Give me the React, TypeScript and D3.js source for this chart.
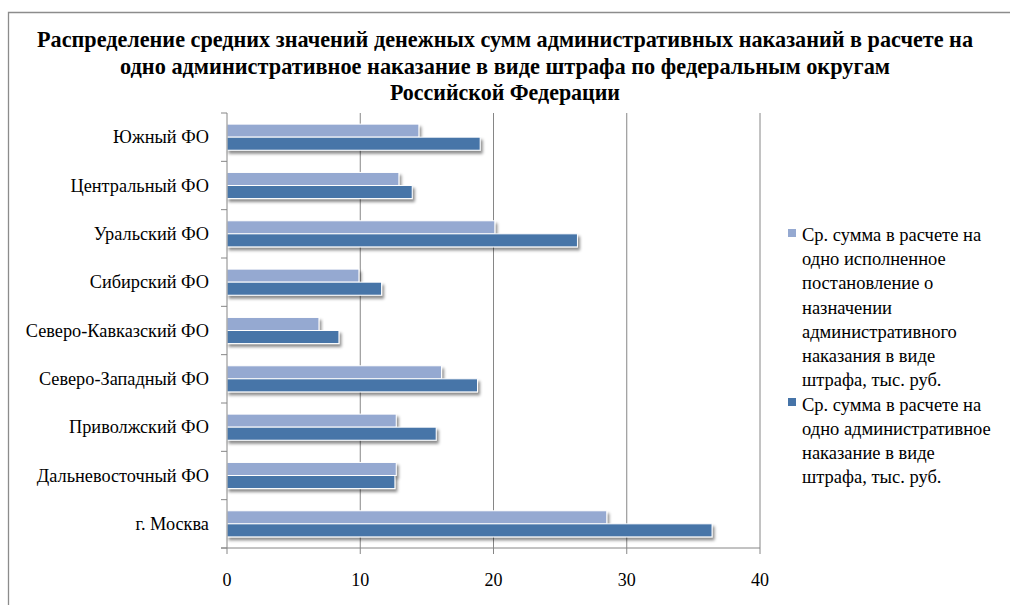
import React from "react";
import * as d3 from "d3";

const categories = [
  "г. Москва",
  "Дальневосточный ФО",
  "Приволжский ФО",
  "Северо-Западный ФО",
  "Северо-Кавказский ФО",
  "Сибирский ФО",
  "Уральский ФО",
  "Центральный ФО",
  "Южный ФО",
];
const executedValues = [28.5, 12.7, 12.7, 16.1, 6.9, 9.9, 20.1, 12.9, 14.4];
const imposedValues = [36.4, 12.6, 15.7, 18.8, 8.4, 11.6, 26.3, 13.9, 19.0];
const xTicks = [0, 10, 20, 30, 40];
const titleLines = [
  "Распределение средних значений денежных сумм административных наказаний в расчете на",
  "одно административное наказание в виде штрафа по федеральным округам",
  "Российской Федерации",
];
const legend1 = [
  "Ср. сумма в расчете на",
  "одно исполненное",
  "постановление о",
  "назначении",
  "административного",
  "наказания в виде",
  "штрафа, тыс. руб.",
];
const legend2 = [
  "Ср. сумма в расчете на",
  "одно административное",
  "наказание в виде",
  "штрафа, тыс. руб.",
];
const series = [
  { key: "executed", values: executedValues, color: "#95A9D1" },
  { key: "imposed", values: imposedValues, color: "#4674A8" },
];

const W = 1010;
const H = 605;
const left = 227;
const right = 760;
const top = 113;
const bottom = 548;
const tStyle: React.CSSProperties = { fontFamily: '"Liberation Serif", serif' };

export default function App() {
  const x = d3.scaleLinear().domain([0, 40]).range([left, right]);
  const displayOrder = categories.slice().reverse();
  const y = d3
    .scaleBand<string>()
    .domain(displayOrder)
    .range([top, bottom])
    .paddingInner(0.46)
    .paddingOuter(0.23);
  const inner = d3
    .scaleBand<string>()
    .domain(series.map((s) => s.key))
    .range([0, y.bandwidth()]);
  const step = (bottom - top) / categories.length;
  const catTicks = d3.range(categories.length + 1).map((i) => top + i * step);
  const titleLens = [936, 770, 230];

  return (
    <svg
      width={W}
      height={H}
      style={{ position: "absolute", left: 0, top: 0, background: "#fff" }}
    >
      <defs>
        <filter id="sh" x="-5%" y="-50%" width="110%" height="250%">
          <feDropShadow dx="2" dy="3" stdDeviation="1.5" floodColor="#000" floodOpacity="0.45" />
        </filter>
      </defs>
      <rect x={0} y={0} width={W} height={H} fill="#fff" />
      <path d={`M8.5,${H} V12.5 H${W}`} fill="none" stroke="#8c8c8c" strokeWidth={1.3} />

      {titleLines.map((t, i) => (
        <text
          key={i}
          x={505}
          y={47 + i * 26.5}
          textAnchor="middle"
          fontWeight="bold"
          fontSize={23}
          textLength={titleLens[i]}
          lengthAdjust="spacingAndGlyphs"
          fill="#000"
          style={tStyle}
        >
          {t}
        </text>
      ))}

      {xTicks.slice(1).map((t) => (
        <line key={t} x1={x(t)} x2={x(t)} y1={top} y2={bottom} stroke="#868686" strokeWidth={1} />
      ))}

      {displayOrder.map((c) => {
        const idx = categories.indexOf(c);
        return (
          <g key={c} transform={`translate(0,${y(c)})`}>
            {series.map((s) => (
              <rect
                key={s.key}
                x={x(0)}
                y={inner(s.key)}
                width={x(s.values[idx]) - x(0)}
                height={inner.bandwidth()}
                fill={s.color}
                stroke="#fff"
                strokeWidth={1}
                filter="url(#sh)"
              />
            ))}
          </g>
        );
      })}

      <line x1={left} x2={left} y1={top} y2={bottom} stroke="#868686" />
      <line x1={left - 6} x2={right} y1={bottom} y2={bottom} stroke="#868686" />
      {catTicks.map((t, i) => (
        <line key={i} x1={left - 6} x2={left} y1={t} y2={t} stroke="#868686" />
      ))}
      {xTicks.map((t) => (
        <line key={t} x1={x(t)} x2={x(t)} y1={bottom} y2={bottom + 6} stroke="#868686" />
      ))}
      {xTicks.map((t) => (
        <text key={t} x={x(t)} y={586} textAnchor="middle" fontSize={18} fill="#000" style={tStyle}>
          {t}
        </text>
      ))}
      {displayOrder.map((c) => (
        <text
          key={c}
          x={209}
          y={(y(c) as number) + y.bandwidth() / 2 + 6}
          textAnchor="end"
          fontSize={18.3}
          fill="#000"
          style={tStyle}
        >
          {c}
        </text>
      ))}

      <rect x={788} y={229} width={8} height={8} fill={series[0].color} />
      {legend1.map((l, i) => (
        <text key={i} x={802} y={241 + i * 24.2} fontSize={18.5} fill="#000" style={tStyle}>
          {l}
        </text>
      ))}
      <rect x={788} y={398} width={8} height={8} fill={series[1].color} />
      {legend2.map((l, i) => (
        <text key={i} x={802} y={410.5 + i * 24.2} fontSize={18.5} fill="#000" style={tStyle}>
          {l}
        </text>
      ))}
    </svg>
  );
}
